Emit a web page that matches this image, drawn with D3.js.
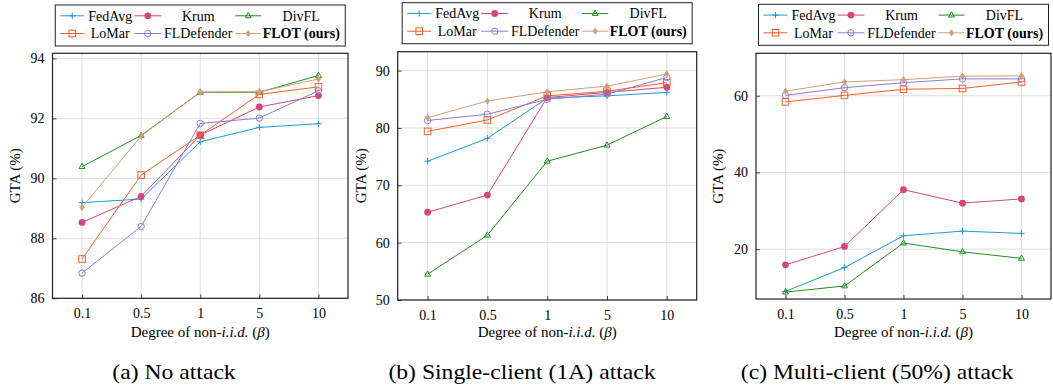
<!DOCTYPE html>
<html><head><meta charset="utf-8">
<script src="https://cdn.jsdelivr.net/npm/d3@7"></script>
<style>
body{margin:0;background:#fff}
svg{display:block}
text{font-family:"Liberation Serif","Times New Roman",serif;fill:#000}
</style>
</head><body><svg id="chart" width="1053" height="385"></svg>
<script>
// ---------- data ----------
const betas = ["0.1", "0.5", "1", "5", "10"];
const seriesNames = ["FedAvg", "Krum", "DivFL", "LoMar", "FLDefender", "FLOT (ours)"];

// (a) No attack
const noAttackFedAvg     = [89.19, 89.31, 91.22, 91.70, 91.82];
const noAttackKrum       = [88.53, 89.40, 91.44, 92.38, 92.76];
const noAttackDivFL      = [90.39, 91.43, 92.87, 92.87, 93.43];
const noAttackLoMar      = [87.31, 90.11, 91.44, 92.80, 93.05];
const noAttackFLDefender = [86.84, 88.40, 91.83, 92.01, 92.92];
const noAttackFLOT       = [89.03, 91.41, 92.88, 92.89, 93.31];

// (b) Single-client (1A) attack
const singleFedAvg     = [74.2, 78.2, 85.2, 85.6, 86.2];
const singleKrum       = [65.3, 68.3, 85.3, 86.2, 87.1];
const singleDivFL      = [54.5, 61.3, 74.2, 77.0, 82.0];
const singleLoMar      = [79.4, 81.4, 85.6, 86.4, 87.9];
const singleFLDefender = [81.3, 82.4, 85.0, 85.9, 88.8];
const singleFLOT       = [81.8, 84.7, 86.3, 87.3, 89.4];

// (c) Multi-client (50%) attack
const multiFedAvg     = [9.0, 15.2, 23.5, 24.7, 24.1];
const multiKrum       = [15.9, 20.7, 35.5, 32.0, 33.1];
const multiDivFL      = [8.8, 10.4, 21.6, 19.3, 17.6];
const multiLoMar      = [58.4, 60.1, 61.7, 61.9, 63.6];
const multiFLDefender = [60.1, 62.1, 63.4, 64.4, 64.4];
const multiFLOT       = [61.2, 63.6, 64.2, 65.1, 65.2];

const yTicksA = [86, 88, 90, 92, 94];
const yTicksB = [50, 60, 70, 80, 90];
const yTicksC = [20, 40, 60];

const captions = ["(a) No attack", "(b) Single-client (1A) attack", "(c) Multi-client (50%) attack"];
const yLabel = "GTA (%)";

// ---------- style ----------
const colors = ["#1f9ad8", "#d6457d", "#1f8f1f", "#f0602a", "#8b7dd3", "#d39e7c"];
const markers = ["plus", "dot", "triangle", "square", "circle", "diamond"];

const panels = [
  {data:[noAttackFedAvg,noAttackKrum,noAttackDivFL,noAttackLoMar,noAttackFLDefender,noAttackFLOT],
   yDomain:[86, 94.17], ticks:yTicksA, left:52.5, right:348, top:53.3, bottom:298.3, legTop:5, ylabX:15, capX:174},
  {data:[singleFedAvg,singleKrum,singleDivFL,singleLoMar,singleFLDefender,singleFLOT],
   yDomain:[50, 93.3], ticks:yTicksB, left:397.7, right:696.7, top:51.7, bottom:300, legTop:2.7, ylabX:361, capX:522},
  {data:[multiFedAvg,multiKrum,multiDivFL,multiLoMar,multiFLDefender,multiFLOT],
   yDomain:[7, 71.07], ticks:yTicksC, left:756, right:1051, top:53.3, bottom:299, legTop:4.3, ylabX:718, capX:877}
];

const svg = d3.select("#chart");

function drawMarker(g, type, x, y, color) {
  if (type === "plus") {
    g.append("path").attr("d", `M${x-3.2},${y}H${x+3.2}M${x},${y-3.2}V${y+3.2}`)
      .attr("stroke", color).attr("stroke-width", 1).attr("fill", "none");
  } else if (type === "dot") {
    g.append("circle").attr("cx", x).attr("cy", y).attr("r", 3.4).attr("fill", color);
  } else if (type === "triangle") {
    g.append("path").attr("d", `M${x},${y-3.3}L${x+3},${y+1.9}L${x-3},${y+1.9}Z`)
      .attr("stroke", color).attr("stroke-width", 1).attr("fill", "none");
  } else if (type === "square") {
    g.append("rect").attr("x", x-3.3).attr("y", y-3.3).attr("width", 6.6).attr("height", 6.6)
      .attr("stroke", color).attr("stroke-width", 1).attr("fill", "none");
  } else if (type === "circle") {
    g.append("circle").attr("cx", x).attr("cy", y).attr("r", 3.2)
      .attr("stroke", color).attr("stroke-width", 1).attr("fill", "none");
  } else if (type === "diamond") {
    g.append("path").attr("d", `M${x},${y-3.6}L${x+2.6},${y}L${x},${y+3.6}L${x-2.6},${y}Z`)
      .attr("fill", color);
  }
}

panels.forEach((p, pi) => {
  const g = svg.append("g");
  const x = d3.scalePoint().domain(betas).range([p.left, p.right]).padding(0.5);
  const y = d3.scaleLinear().domain(p.yDomain).range([p.bottom, p.top]);

  // grid
  g.append("g").selectAll("line").data(betas).join("line")
    .attr("x1", d => x(d)).attr("x2", d => x(d)).attr("y1", p.top).attr("y2", p.bottom)
    .attr("stroke", "#dedede").attr("stroke-width", 1);
  g.append("g").selectAll("line").data(p.ticks).join("line")
    .attr("x1", p.left).attr("x2", p.right).attr("y1", d => y(d)).attr("y2", d => y(d))
    .attr("stroke", "#dedede").attr("stroke-width", 1);

  // axes
  const yAxis = d3.axisLeft(y).tickValues(p.ticks).tickSize(-4).tickPadding(8);
  const ya = g.append("g").attr("transform", `translate(${p.left},0)`).call(yAxis);
  ya.select(".domain").remove();
  ya.selectAll(".tick line").attr("stroke", "#444");
  ya.selectAll("text").style("font-family", "Liberation Serif").style("font-size", "14px").attr("fill", "#000");

  const xAxis = d3.axisBottom(x).tickSize(-4).tickPadding(10);
  const xa = g.append("g").attr("transform", `translate(0,${p.bottom})`).call(xAxis);
  xa.select(".domain").remove();
  xa.selectAll(".tick line").attr("stroke", "#444");
  xa.selectAll("text").style("font-family", "Liberation Serif").style("font-size", "14px").attr("fill", "#000");

  // series
  const line = d3.line().x((d, i) => x(betas[i])).y(d => y(d));
  p.data.forEach((vals, si) => {
    const sg = g.append("g");
    sg.append("path").datum(vals).attr("d", line).attr("fill", "none")
      .attr("stroke", colors[si]).attr("stroke-width", 1);
    vals.forEach((v, i) => drawMarker(sg, markers[si], x(betas[i]), y(v), colors[si]));
  });

  // frame
  g.append("rect").attr("x", p.left).attr("y", p.top).attr("width", p.right - p.left)
    .attr("height", p.bottom - p.top).attr("fill", "none").attr("stroke", "#222").attr("stroke-width", 1.2);

  // labels
  const cx = (p.left + p.right) / 2;
  const xl = g.append("text").attr("x", cx).attr("y", 336.5).attr("text-anchor", "middle")
    .style("font-size", "15px");
  xl.append("tspan").text("Degree of non-");
  xl.append("tspan").style("font-style", "italic").text("i.i.d.");
  xl.append("tspan").text(" (");
  xl.append("tspan").style("font-style", "italic").text("β");
  xl.append("tspan").text(")");

  g.append("text").attr("transform", `translate(${p.ylabX},${(p.top + p.bottom) / 2}) rotate(-90)`)
    .attr("text-anchor", "middle").attr("dominant-baseline", "central").style("font-size", "15px").text(yLabel);

  g.append("text").attr("transform", `translate(${p.capX},378.5) scale(1.1,1)`).attr("text-anchor", "middle")
    .style("font-size", "21.5px").text(captions[pi]);

  // legend
  const lw = 290, lh = 41;
  const lx = cx - lw / 2, ly = p.legTop;
  g.append("rect").attr("x", lx).attr("y", ly).attr("width", lw).attr("height", lh)
    .attr("fill", "#fff").attr("stroke", "#222").attr("stroke-width", 1);
  const colLine = [[5, 29], [79, 106], [180, 206]];
  const colText = [55, 143, 246];
  const rowY = [10.8, 28.5];
  seriesNames.forEach((name, si) => {
    const col = si % 3, row = Math.floor(si / 3);
    const yy = ly + rowY[row];
    const x1 = lx + colLine[col][0], x2 = lx + colLine[col][1];
    g.append("line").attr("x1", x1).attr("x2", x2).attr("y1", yy).attr("y2", yy)
      .attr("stroke", colors[si]).attr("stroke-width", 1);
    drawMarker(g, markers[si], (x1 + x2) / 2, yy, colors[si]);
    const t = g.append("text").attr("x", lx + colText[col]).attr("y", yy).attr("dy", "0.35em")
      .attr("text-anchor", "middle").style("font-size", "14px");
    if (si === 5) t.style("font-weight", "bold");
    t.text(name);
  });
});
</script>
</body></html>
